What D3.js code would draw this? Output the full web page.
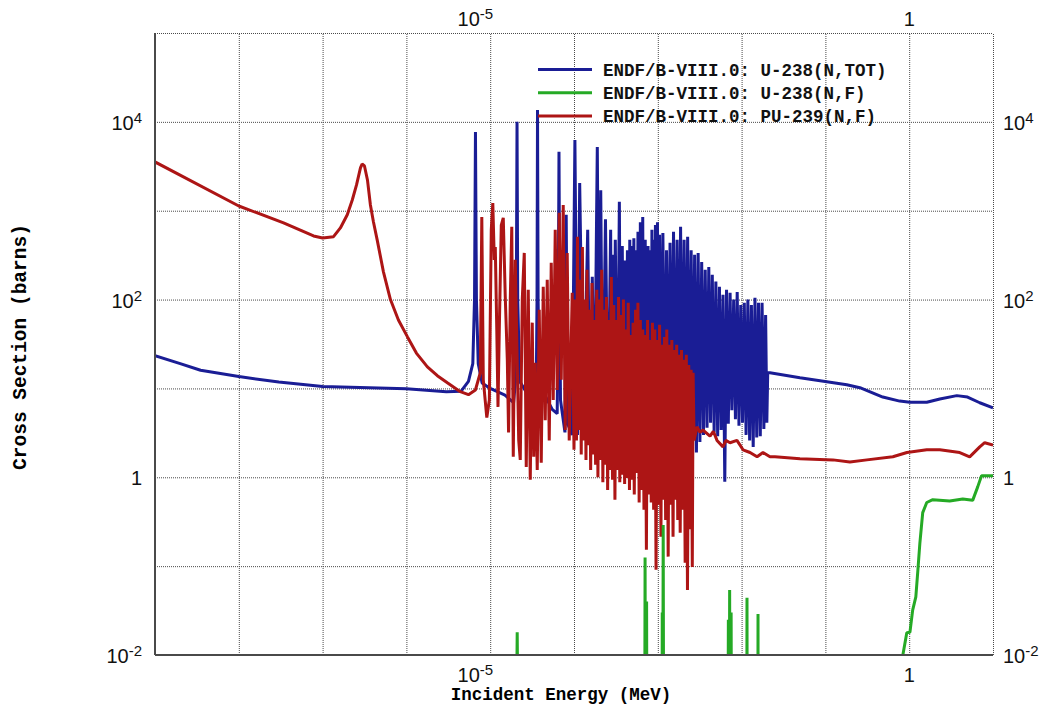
<!DOCTYPE html>
<meta charset="utf-8">

<!-- Load d3.js -->
<script src="https://d3js.org/d3.v7.min.js"></script>

<style>
  body { margin: 0; background: #fff; }
  svg { display: block; }
</style>

<!-- Create a div where the graph will take place -->
<div id="my_dataviz"></div>

<script>
    // ---- data: [incident energy (MeV), cross section (barns)] ----

    var u238Total = [
      [1e-9, 23.3], [2e-9, 19], [3.5e-9, 16], [1e-8, 13.6], [3e-8, 11.8], [1e-7, 10.5],
      [1e-6, 9.9], [3e-6, 9.2], [4.5e-6, 9.3], [5.5e-6, 12], [6.2e-6, 19],
      [6.5e-6, 100], [6.67e-6, 7700], [6.85e-6, 100], [7.2e-6, 19], [8e-6, 11.5],
      [1e-5, 10], [1.5e-5, 8.4], [1.9e-5, 6.9], [2.0e-5, 12],
      [2.05e-5, 100], [2.09e-5, 10000], [2.13e-5, 100], [2.25e-5, 12],
      [2.6e-5, 9.6], [3.3e-5, 7.4], [3.55e-5, 12],
      [3.62e-5, 100], [3.67e-5, 13600], [3.73e-5, 100], [3.85e-5, 12],
      [4.5e-5, 8.4], [5.5e-5, 5.8], [6.3e-5, 5.2],
      [6.5e-5, 100], [6.62e-5, 4600], [6.75e-5, 100], [6.9e-5, 7.4],
      [7.8e-5, 3.2], [8.07e-5, 900], [8.4e-5, 4], [9.5e-5, 3],
      [1.025e-4, 6250], [1.1e-4, 3], [1.169e-4, 2050], [1.3e-4, 3],
      [1.457e-4, 610], [1.55e-4, 3], [1.653e-4, 180], [1.75e-4, 3],
      [1.897e-4, 5200], [2.0e-4, 3], [2.085e-4, 1700], [2.2e-4, 3],
      [2.374e-4, 800], [2.55e-4, 3], [2.737e-4, 610], [2.82e-4, 3],
      [2.91e-4, 320], [3.0e-4, 3], [3.11e-4, 470], [3.3e-4, 3],
      [3.478e-4, 1260], [3.6e-4, 3], [3.769e-4, 400], [3.9e-4, 3],
      [3.985e-4, 275], [4.15e-4, 3], [4.34e-4, 360], [4.5e-4, 3],
      [4.63e-4, 470], [4.7e-4, 3], [4.78e-4, 400], [5.0e-4, 3],
      [5.18e-4, 490], [5.27e-4, 3], [5.35e-4, 360], [5.6e-4, 3],
      [5.8e-4, 580], [5.87e-4, 3], [5.94e-4, 470], [6.1e-4, 3],
      [6.19e-4, 740], [6.24e-4, 3], [6.28e-4, 360], [6.45e-4, 3],
      [6.61e-4, 850], [6.77e-4, 3], [6.93e-4, 360], [7.0e-4, 3],
      [7.08e-4, 470], [7.15e-4, 3], [7.21e-4, 275], [7.4e-4, 3],
      [7.65e-4, 400], [7.9e-4, 3], [8.21e-4, 360], [8.35e-4, 3],
      [8.51e-4, 610], [8.58e-4, 3], [8.66e-4, 316], [8.85e-4, 3],
      [9.05e-4, 470], [9.2e-4, 3], [9.37e-4, 690], [9.48e-4, 3],
      [9.58e-4, 400], [9.75e-4, 3], [9.91e-4, 740],
      [1.0e-3, 3], [1.05e-3, 535], [1.10e-3, 3], [1.15e-3, 560], [1.21e-3, 3],
      [1.27e-3, 360], [1.33e-3, 3], [1.40e-3, 435], [1.47e-3, 3], [1.54e-3, 580],
      [1.62e-3, 3], [1.70e-3, 470], [1.78e-3, 3], [1.87e-3, 660], [1.96e-3, 3],
      [2.06e-3, 470], [2.16e-3, 3], [2.27e-3, 510], [2.38e-3, 3], [2.50e-3, 360],
      [2.62e-3, 3], [2.75e-3, 320], [2.89e-3, 1.9], [3.03e-3, 335], [3.18e-3, 2.5],
      [3.34e-3, 265], [3.51e-3, 3.0], [3.68e-3, 216], [3.87e-3, 3.6], [4.06e-3, 233],
      [4.26e-3, 4.1], [4.47e-3, 190], [4.70e-3, 3.2], [4.93e-3, 160], [5.18e-3, 2.9],
      [5.44e-3, 139], [5.71e-3, 3.4], [6.00e-3, 113], [6.30e-3, 0.89], [6.61e-3, 129],
      [6.94e-3, 4.0], [7.29e-3, 119], [7.65e-3, 5.7], [8.04e-3, 100], [8.44e-3, 4.5],
      [8.86e-3, 122], [9.30e-3, 3.8], [9.77e-3, 87], [1.026e-2, 4.1], [1.077e-2, 92],
      [1.131e-2, 3.0], [1.188e-2, 100], [1.247e-2, 2.6], [1.309e-2, 87], [1.375e-2, 2.2],
      [1.444e-2, 105], [1.516e-2, 2.8], [1.592e-2, 92], [1.671e-2, 2.9], [1.755e-2, 92],
      [1.843e-2, 3.5], [1.935e-2, 67], [2.0e-2, 4.1], [2.05e-2, 15],
      [2.18e-2, 15], [4.97e-2, 13.2], [0.104, 11.9], [0.18, 11.0], [0.258, 10.2],
      [0.484, 8.0], [0.77, 7.2], [1.02, 7.0], [1.62, 7.0], [2.32, 7.6], [3.7, 8.3],
      [4.97, 8.0], [6.95, 6.9], [10, 6.05]
    ];

    var u238Fission = [
      [1e-9, 1e-4], [2.0e-5, 1e-4], [2.1e-5, 0.018], [2.2e-5, 1e-4],
      [6.95e-4, 1e-4], [7.05e-4, 0.125], [7.15e-4, 1e-4], [7.35e-4, 0.04], [7.45e-4, 1e-4],
      [1.12e-3, 1e-4], [1.13e-3, 0.03], [1.14e-3, 1e-4], [1.16e-3, 0.29], [1.18e-3, 1e-4],
      [6.85e-3, 1e-4], [6.95e-3, 0.025], [7.1e-3, 1e-4], [7.2e-3, 0.054], [7.3e-3, 1e-4],
      [7.5e-3, 0.03], [7.6e-3, 1e-4],
      [1.15e-2, 1e-4], [1.16e-2, 0.044], [1.17e-2, 1e-4],
      [1.56e-2, 1e-4], [1.57e-2, 0.029], [1.58e-2, 1e-4],
      [0.8, 2e-3], [0.84, 0.01], [0.936, 0.0178], [1.02, 0.018], [1.1, 0.032],
      [1.2, 0.045], [1.27, 0.091], [1.34, 0.18], [1.45, 0.4], [1.62, 0.52],
      [1.91, 0.56], [3.04, 0.54], [4.36, 0.57], [5.72, 0.55], [6.57, 0.78],
      [7.3, 1.04], [10, 1.04]
    ];

    var pu239Fission = [
      [1e-9, 3540], [1e-8, 1130], [3.42e-8, 730], [7.8e-8, 520], [1e-7, 494],
      [1.35e-7, 510], [1.63e-7, 640], [1.97e-7, 900], [2.26e-7, 1320], [2.54e-7, 1950],
      [2.83e-7, 3030], [2.96e-7, 3360], [3.16e-7, 3190], [3.43e-7, 2220], [3.72e-7, 1160],
      [4.04e-7, 750], [4.48e-7, 470], [5.32e-7, 205], [6.45e-7, 100], [8.03e-7, 59],
      [1.03e-6, 38], [1.315e-6, 25], [1.78e-6, 17.5], [2.34e-6, 13.9],
      [3.08e-6, 11.6], [4.4e-6, 9.2], [5.5e-6, 8.5], [6.66e-6, 9.6],
      [7.62e-6, 15], [7.94e-6, 850], [8.27e-6, 12.5], [9.11e-6, 4.7], [9.77e-6, 7.4],
      [1.03e-5, 610], [1.074e-5, 1220], [1.119e-5, 280], [1.15e-5, 390], [1.198e-5, 46],
      [1.239e-5, 6.2], [1.284e-5, 46], [1.356e-5, 690], [1.432e-5, 830], [1.513e-5, 107],
      [1.6e-5, 21], [1.656e-5, 3.2], [1.736e-5, 100], [1.809e-5, 660], [1.885e-5, 1.7],
      [1.991e-5, 280], [2.19e-5, 2.6], [2.284e-5, 1.57], [2.413e-5, 100], [2.55e-5, 335],
      [2.693e-5, 1.31], [2.845e-5, 129], [3.006e-5, 0.94], [3.176e-5, 55], [3.309e-5, 1.7],
      [3.448e-5, 19.4], [3.642e-5, 1.21], [3.848e-5, 77], [4.065e-5, 1.46], [4.295e-5, 139],
      [4.537e-5, 4.4], [4.794e-5, 167], [5.064e-5, 2.6], [5.35e-5, 260], [5.652e-5, 7.4],
      [5.971e-5, 610], [6.308e-5, 9.6], [6.664e-5, 950], [7.04e-5, 12.5], [7.437e-5, 1160],
      [7.85e-5, 3.4], [8.3e-5, 335], [8.77e-5, 2.6], [9.52e-5, 119],
      [1.00e-4, 2.04], [1.03e-4, 100], [1.07e-4, 2.6], [1.10e-4, 510], [1.14e-4, 3.4],
      [1.18e-4, 167], [1.22e-4, 1.8], [1.26e-4, 390], [1.30e-4, 2.6], [1.34e-4, 100],
      [1.39e-4, 1.57], [1.43e-4, 216], [1.48e-4, 2.3], [1.53e-4, 77], [1.58e-4, 1.21],
      [1.64e-4, 154], [1.69e-4, 1.8], [1.75e-4, 59], [1.81e-4, 1.38], [1.87e-4, 129],
      [1.93e-4, 1.0], [2.00e-4, 100], [2.07e-4, 1.57], [2.14e-4, 216], [2.21e-4, 0.88],
      [2.28e-4, 77], [2.36e-4, 1.38], [2.44e-4, 107], [2.52e-4, 0.72], [2.61e-4, 59],
      [2.70e-4, 1.21], [2.79e-4, 180], [2.88e-4, 0.94], [2.98e-4, 87], [3.08e-4, 0.56],
      [3.18e-4, 59], [3.29e-4, 1.21], [3.40e-4, 107], [3.52e-4, 0.88], [3.64e-4, 67],
      [3.76e-4, 1.07], [3.89e-4, 100], [4.02e-4, 0.84], [4.15e-4, 46], [4.29e-4, 0.98],
      [4.44e-4, 92], [4.59e-4, 0.72], [4.74e-4, 40], [4.90e-4, 0.94], [5.07e-4, 55],
      [5.24e-4, 0.64], [5.42e-4, 77], [5.60e-4, 1.12], [5.79e-4, 92], [5.99e-4, 0.52],
      [6.19e-4, 59], [6.40e-4, 0.72], [6.61e-4, 46], [6.84e-4, 0.43], [7.07e-4, 40],
      [7.31e-4, 0.153], [7.55e-4, 59], [7.81e-4, 0.64], [8.07e-4, 35], [8.35e-4, 0.52],
      [8.63e-4, 55], [8.92e-4, 0.43], [9.22e-4, 46], [9.53e-4, 0.091], [9.85e-4, 35],
      [1.02e-3, 0.49], [1.05e-3, 52], [1.09e-3, 0.214], [1.12e-3, 31], [1.16e-3, 0.56],
      [1.20e-3, 38], [1.24e-3, 0.33], [1.28e-3, 46], [1.33e-3, 0.128], [1.37e-3, 31],
      [1.42e-3, 0.49], [1.47e-3, 35], [1.52e-3, 0.214], [1.57e-3, 27], [1.62e-3, 0.56],
      [1.68e-3, 31], [1.73e-3, 0.33], [1.79e-3, 23.9], [1.85e-3, 0.238], [1.92e-3, 27],
      [1.98e-3, 0.43], [2.05e-3, 21], [2.12e-3, 0.109], [2.19e-3, 23.9], [2.26e-3, 0.054],
      [2.34e-3, 18.4], [2.42e-3, 0.26], [2.50e-3, 16.2], [2.58e-3, 0.098], [2.64e-3, 15],
      [2.708e-3, 2.6],
      [2.94e-3, 3.7], [3.19e-3, 3.2], [3.47e-3, 3.4], [4.2e-3, 2.9], [4.6e-3, 3.3],
      [5.09e-3, 2.6], [6.0e-3, 2.2], [6.5e-3, 2.6], [7.27e-3, 2.45], [8.8e-3, 2.6],
      [1.04e-2, 2.04], [1.26e-2, 1.9], [1.53e-2, 1.7], [1.8e-2, 1.9], [2.18e-2, 1.7],
      [2.5e-2, 1.7], [4.97e-2, 1.62], [0.123, 1.57], [0.196, 1.49], [0.313, 1.57],
      [0.638, 1.7], [0.94, 1.9], [1.62, 2.04], [2.32, 2.04], [4.01, 1.9], [5.27, 1.7],
      [6.95, 2.2], [7.96, 2.45], [10, 2.3]
    ];

    // grid lines (one per decade) and labelled ticks
    var xGridTicks = [1e-9, 1e-8, 1e-7, 1e-6, 1e-5, 1e-4, 1e-3, 1e-2, 1e-1, 1, 10];
    var yGridTicks = [1e-2, 1e-1, 1, 10, 1e2, 1e3, 1e4, 1e5];
    var xLabelTicks = [1e-5, 1];
    var yLabelTicks = [1e-2, 1, 1e2, 1e4];

    var seriesNames = [
      "ENDF/B-VIII.0: U-238(N,TOT)",
      "ENDF/B-VIII.0: U-238(N,F)",
      "ENDF/B-VIII.0: PU-239(N,F)"
    ];
    var seriesColors = ["#1a1d95", "#25aa25", "#ad1515"];

    // set the dimensions and margins of the graph
    var margin = {top: 33, right: 58, bottom: 54, left: 155},
        width = 1051 - margin.left - margin.right,
        height = 709 - margin.top - margin.bottom;

    var svg = d3.select("#my_dataviz")
      .append("svg")
        .attr("width", width + margin.left + margin.right)
        .attr("height", height + margin.top + margin.bottom)
      .append("g")
        .attr("transform", "translate(" + margin.left + "," + margin.top + ")");

    var x = d3.scaleLog().domain([1e-9, 10]).range([0, width]);
    var y = d3.scaleLog().domain([1e-2, 1e5]).range([height, 0]);

    // dotted grid
    var gx = svg.append("g")
        .attr("transform", "translate(0," + height + ")")
        .call(d3.axisBottom(x).tickValues(xGridTicks).tickSize(-height).tickFormat(""));
    var gy = svg.append("g")
        .call(d3.axisLeft(y).tickValues(yGridTicks).tickSize(-width).tickFormat(""));
    [gx, gy].forEach(function(g) {
      g.select(".domain").remove();
      g.selectAll(".tick line")
        .attr("stroke", "#4a4a4a")
        .attr("stroke-width", 1)
        .attr("stroke-dasharray", "1,1");
    });

    // clip the curves to the frame
    svg.append("clipPath").attr("id", "frame")
      .append("rect").attr("width", width).attr("height", height);

    var line = d3.line()
        .x(function(d) { return x(d[0]); })
        .y(function(d) { return y(d[1]); });

    var plot = svg.append("g").attr("clip-path", "url(#frame)");
    [[u238Total, 0], [pu239Fission, 2], [u238Fission, 1]].forEach(function(s) {
      plot.append("path")
        .datum(s[0])
        .attr("fill", "none")
        .attr("stroke", seriesColors[s[1]])
        .attr("stroke-width", 3)
        .attr("stroke-linejoin", "bevel")
        .attr("d", line);
    });

    // solid left and bottom axis lines
    svg.append("line").attr("x1", 0).attr("x2", 0).attr("y1", 0).attr("y2", height)
      .attr("stroke", "#4a4a4a").attr("stroke-width", 2);
    svg.append("line").attr("x1", 0).attr("x2", width).attr("y1", height).attr("y2", height)
      .attr("stroke", "#4a4a4a").attr("stroke-width", 2);

    // power-of-ten labels: "1" or "10" with a raised exponent
    function powerLabel(text, v) {
      var p = Math.round(Math.log10(v));
      if (p === 0) { text.text("1"); return; }
      text.append("tspan").text("10");
      text.append("tspan").attr("dy", -7).style("font-size", "15px").text(p);
    }

    var tickFont = "'Liberation Sans', Arial, sans-serif";

    // top and bottom labels
    [-7, height + 27].forEach(function(ty) {
      svg.selectAll(null)
        .data(xLabelTicks)
        .enter().append("text")
          .attr("x", function(d) { return Math.round(Math.log10(d)) === 0 ? x(d) : x(d) + 3; })
          .attr("y", ty)
          .attr("text-anchor", function(d) { return Math.round(Math.log10(d)) === 0 ? "middle" : "end"; })
          .style("font-family", tickFont)
          .style("font-size", "20px")
          .attr("fill", "#111")
          .each(function(d) { powerLabel(d3.select(this), d); });
    });

    // left and right labels
    [[-13, "end"], [width + 10, "start"]].forEach(function(side) {
      svg.selectAll(null)
        .data(yLabelTicks)
        .enter().append("text")
          .attr("x", side[0])
          .attr("y", function(d) { return y(d) + 8; })
          .attr("text-anchor", side[1])
          .style("font-family", tickFont)
          .style("font-size", "20px")
          .attr("fill", "#111")
          .each(function(d) { powerLabel(d3.select(this), d); });
    });

    var monoFont = "'Liberation Mono', 'DejaVu Sans Mono', monospace";

    // axis titles
    svg.append("text")
        .attr("x", 406)
        .attr("y", height + 45)
        .attr("text-anchor", "middle")
        .style("font-family", monoFont)
        .style("font-size", "17.5px")
        .style("font-weight", "bold")
        .text("Incident Energy (MeV)");

    svg.append("text")
        .attr("transform", "translate(-129," + (height / 2 + 3) + ")rotate(-90)")
        .attr("text-anchor", "middle")
        .style("font-family", monoFont)
        .style("font-size", "19.5px")
        .style("font-weight", "bold")
        .text("Cross Section (barns)");

    // legend
    var legend = svg.append("g").attr("transform", "translate(383,36.5)");
    var legendSpacing = 23.3;

    legend.selectAll("legendLines")
      .data(seriesNames)
      .enter().append("line")
        .attr("x1", 0)
        .attr("x2", 54)
        .attr("y1", function(d, i) { return i * legendSpacing; })
        .attr("y2", function(d, i) { return i * legendSpacing; })
        .attr("stroke", function(d, i) { return seriesColors[i]; })
        .attr("stroke-width", 3);

    legend.selectAll("legendLabels")
      .data(seriesNames)
      .enter().append("text")
        .attr("x", 65)
        .attr("y", function(d, i) { return i * legendSpacing + 6; })
        .style("font-family", monoFont)
        .style("font-size", "17.5px")
        .style("font-weight", "bold")
        .attr("fill", "#111")
        .text(function(d) { return d; });
</script>
